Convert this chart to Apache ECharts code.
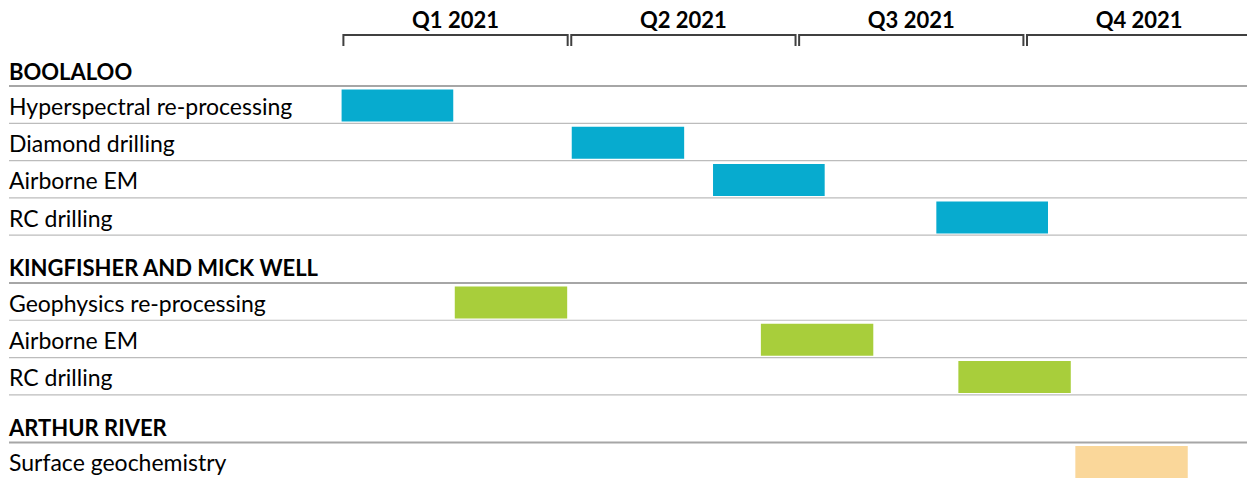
<!DOCTYPE html>
<html><head><meta charset="utf-8">
<script src="https://cdn.jsdelivr.net/npm/echarts@6/dist/echarts.min.js"></script>
<style>html,body{margin:0;padding:0;background:#fff}#c{width:1247px;height:478px}</style>
</head><body><div id="c"></div>
<script>
// ---- data ----
const quarters = ['Q1 2021', 'Q2 2021', 'Q3 2021', 'Q4 2021'];
const monthsPerQuarter = 3;
const groups = ['BOOLALOO', 'KINGFISHER AND MICK WELL', 'ARTHUR RIVER'];
const taskNames = ['Hyperspectral re-processing', 'Diamond drilling', 'Airborne EM', 'RC drilling',
                   'Geophysics re-processing', 'Airborne EM', 'RC drilling',
                   'Surface geochemistry'];
const taskGroup = [0, 0, 0, 0, 1, 1, 1, 2];
// start / end in months from 1 Jan 2021
const taskStart = [0.00, 3.03, 4.89, 7.83, 1.49, 5.52, 8.12, 9.66];
const taskEnd   = [1.47, 4.51, 6.36, 9.30, 2.97, 7.00, 9.60, 11.14];
const groupColors = ['#07abcf', '#a8ce3b', '#fad79a'];

// ---- layout (row units) ----
const ITEM_H = 1, HEAD_H = 1.28;
const LABEL_X = 9;
const rows = [];
const taskTop = [];
let cur = -HEAD_H;
groups.forEach((g, gi) => {
  rows.push({ kind: 'head', label: g, top: cur, bottom: cur + HEAD_H });
  cur += HEAD_H;
  taskNames.forEach((t, ti) => {
    if (taskGroup[ti] === gi) {
      rows.push({ kind: 'item', label: t, top: cur, bottom: cur + ITEM_H });
      taskTop[ti] = cur;
      cur += ITEM_H;
    }
  });
});
const BRACKET_Y = -1.367;
const QLABEL_Y = -1.77;
const VISIBLE_MONTHS = 11.92; // the chart is cropped just before the end of Q4

const chart = echarts.init(document.getElementById('c'), null, { renderer: 'svg' });
chart.setOption({
  animation: false,
  backgroundColor: '#fff',
  grid: { left: 341.6, top: 0, right: 0, bottom: 0 },
  xAxis: { type: 'value', min: 0, max: VISIBLE_MONTHS, show: false },
  yAxis: { type: 'value', inverse: true, min: -2.3056, max: 10.509, show: false },
  series: [
    {
      type: 'custom', name: 'rows', clip: false, silent: true,
      data: rows.map(r => [0, r.top, r.bottom]),
      renderItem: function (params, api) {
        const r = rows[params.dataIndex];
        const yTop = api.coord([0, r.top])[1];
        const yBot = api.coord([0, r.bottom])[1];
        const W = api.getWidth();
        const head = r.kind === 'head';
        return {
          type: 'group',
          children: [
            { type: 'line', shape: { x1: LABEL_X, y1: yBot, x2: W, y2: yBot },
              style: { stroke: head ? '#a6a6a6' : '#bcbcbc', lineWidth: head ? 2 : 1.2 } },
            { type: 'text',
              style: { x: LABEL_X, y: head ? yBot - 15 : (yTop + yBot) / 2 + 1,
                       text: r.label, fill: '#000',
                       font: head ? 'bold 22px Lato' : '23px Lato',
                       verticalAlign: 'middle', align: 'left' } }
          ]
        };
      }
    },
    {
      type: 'custom', name: 'quarters', clip: false, silent: true,
      data: quarters.map((q, i) => [i * monthsPerQuarter, (i + 1) * monthsPerQuarter]),
      renderItem: function (params, api) {
        const a = api.coord([api.value(0), BRACKET_Y]);
        const b = api.coord([api.value(1), BRACKET_Y]);
        const t = api.coord([(api.value(0) + api.value(1)) / 2, QLABEL_Y]);
        const inset = 1.8, tick = 11;
        return {
          type: 'group',
          children: [
            { type: 'polyline',
              shape: { points: [[a[0] + inset, a[1] + tick], [a[0] + inset, a[1]], [b[0] - inset, b[1]], [b[0] - inset, b[1] + tick]] },
              style: { stroke: '#404040', lineWidth: 2, fill: null } },
            { type: 'text',
              style: { x: t[0], y: t[1], text: quarters[params.dataIndex], fill: '#000',
                       font: 'bold 22px Lato', align: 'center', verticalAlign: 'middle' } }
          ]
        };
      }
    },
    {
      type: 'custom', name: 'tasks', clip: false,
      encode: { x: [0, 1], y: 2 },
      data: taskStart.map((s, i) => [s, taskEnd[i], taskTop[i], taskGroup[i]]),
      renderItem: function (params, api) {
        const p0 = api.coord([api.value(0), api.value(2)]);
        const p1 = api.coord([api.value(1), api.value(2) + ITEM_H]);
        return {
          type: 'rect',
          shape: { x: p0[0], y: p0[1] + 3.5, width: p1[0] - p0[0], height: p1[1] - p0[1] - 5.3 },
          style: { fill: groupColors[api.value(3)] }
        };
      }
    }
  ]
});
</script>
</body></html>
